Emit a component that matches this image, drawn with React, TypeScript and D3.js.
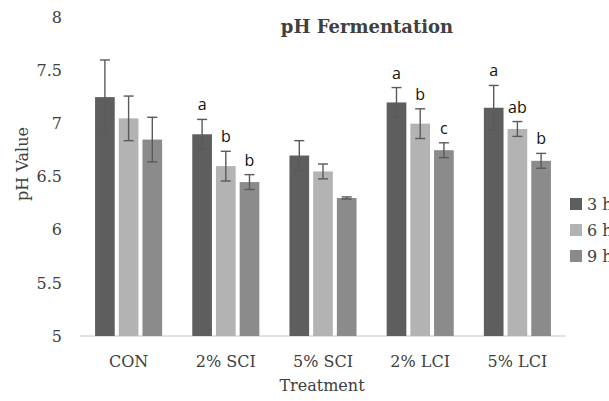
import React from "react";
import * as d3 from "d3";

const categories = ["CON", "2% SCI", "5% SCI", "2% LCI", "5% LCI"];
const seriesNames = ["3 h", "6 h", "9 h"];
const seriesColors = ["#5e5e5e", "#b3b3b3", "#8b8b8b"];
const values3h = [7.25, 6.9, 6.7, 7.2, 7.15];
const values6h = [7.05, 6.6, 6.55, 7.0, 6.95];
const values9h = [6.85, 6.45, 6.3, 6.75, 6.65];
const err3h = [0.35, 0.14, 0.14, 0.14, 0.21];
const err6h = [0.21, 0.14, 0.07, 0.14, 0.07];
const err9h = [0.21, 0.07, 0.01, 0.07, 0.07];
const letters3h = ["", "a", "", "a", "a"];
const letters6h = ["", "b", "", "b", "ab"];
const letters9h = ["", "b", "", "c", "b"];
const yTicks = [5, 5.5, 6, 6.5, 7, 7.5, 8];

const W = 609;
const H = 401;
const serif = "'DejaVu Serif', serif";
const sans = "'Open Sans', 'Liberation Sans', sans-serif";

export default function App() {
  const x0 = d3.scaleBand<string>().domain(categories).range([80, 566]).paddingInner(0.31).paddingOuter(0.155);
  const x1 = d3.scaleBand<string>().domain(seriesNames).range([0, x0.bandwidth()]).paddingInner(0.17);
  const y = d3.scaleLinear().domain([5, 8]).range([336, 17.5]);

  const vals = [values3h, values6h, values9h];
  const errs = [err3h, err6h, err9h];
  const lets = [letters3h, letters6h, letters9h];

  return (
    <svg width={W} height={H} style={{ position: "absolute", left: 0, top: 0, background: "#fff" }}>
      <rect x={0} y={0} width={W} height={H} fill="#fff" />
      <text x={367} y={33} textAnchor="middle" fontFamily={serif} fontWeight="bold" fontSize={18} fill="#404040">
        pH Fermentation
      </text>
      {yTicks.map((t) => (
        <text key={t} x={62} y={y(t)} dy="0.35em" textAnchor="end" fontFamily={serif} fontSize={16} fill="#404040">
          {t}
        </text>
      ))}
      <line x1={80} x2={566} y1={y(5)} y2={y(5)} stroke="#d9d9d9" strokeWidth={1.5} />
      {categories.map((c, ci) => (
        <g key={c} transform={`translate(${x0(c)},0)`}>
          {seriesNames.map((s, si) => {
            const v = vals[si][ci];
            const e = errs[si][ci];
            const bx = x1(s)!;
            const bw = x1.bandwidth();
            const cx = bx + bw / 2;
            return (
              <g key={s}>
                <rect x={bx} y={y(v)} width={bw} height={y(5) - y(v)} fill={seriesColors[si]} />
                <line x1={cx} x2={cx} y1={y(v + e)} y2={y(v - e)} stroke="#5a5a5a" strokeWidth={1.4} />
                <line x1={cx - 5} x2={cx + 5} y1={y(v + e)} y2={y(v + e)} stroke="#5a5a5a" strokeWidth={1.4} />
                <line x1={cx - 5} x2={cx + 5} y1={y(v - e)} y2={y(v - e)} stroke="#5a5a5a" strokeWidth={1.4} />
                {lets[si][ci] && (
                  <text x={cx} y={y(v + e) - 9} textAnchor="middle" fontFamily={sans} fontSize={16} fill="#111">
                    {lets[si][ci]}
                  </text>
                )}
              </g>
            );
          })}
          <text x={x0.bandwidth() / 2} y={367} textAnchor="middle" fontFamily={serif} fontSize={16} fill="#404040">
            {c}
          </text>
        </g>
      ))}
      <text x={322} y={391} textAnchor="middle" fontFamily={serif} fontSize={16} fill="#404040">
        Treatment
      </text>
      <text transform={`translate(28,164) rotate(-90)`} textAnchor="middle" fontFamily={serif} fontSize={16} fill="#404040">
        pH Value
      </text>
      {seriesNames.map((s, i) => (
        <g key={s} transform={`translate(570,${204 + i * 26})`}>
          <rect x={0} y={-6} width={12} height={12} fill={seriesColors[i]} />
          <text x={17} y={0} dy="0.35em" fontFamily={serif} fontSize={16} fill="#404040">
            {s}
          </text>
        </g>
      ))}
    </svg>
  );
}
